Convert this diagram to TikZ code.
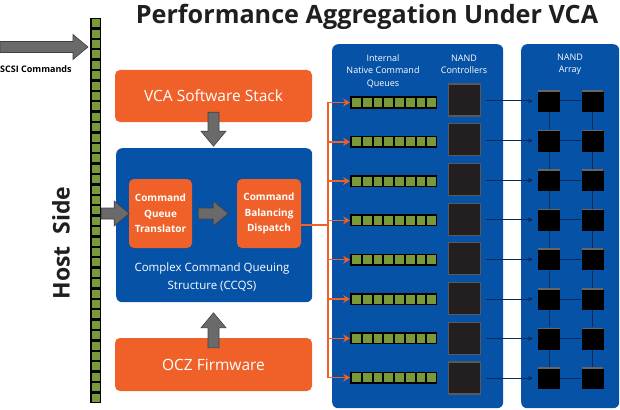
\documentclass[tikz,border=0pt]{standalone}
\usepackage{fontspec}
\setmainfont{Open Sans}
\usetikzlibrary{arrows.meta,calc}

\definecolor{oczorange}{HTML}{F0612A}
\definecolor{vcablue}{HTML}{0652A6}
\definecolor{qgreen}{HTML}{7A9A3A}
\definecolor{arrowgray}{HTML}{6A6A6A}
\definecolor{ctrlgray}{HTML}{231F20}
\definecolor{linknavy}{HTML}{0A2A58}

\tikzset{
  orangebox/.style={fill=oczorange, rounded corners=5pt, text=white, inner sep=0pt},
  bluepanel/.style={fill=vcablue, rounded corners=6pt, inner sep=0pt},
  fatarrow/.style={fill=arrowgray, draw=black!75, line width=0.6pt},
  fanout/.style={draw=oczorange, line width=1.4pt},
  ctrlbox/.style={fill=ctrlgray, draw=black!65, line width=1.2pt, minimum size=32pt, inner sep=0pt},
  nandchip/.style={fill=black, minimum size=22pt, inner sep=0pt,
    path picture={\fill[black!60] (path picture bounding box.north west) rectangle ([yshift=-1.6pt]path picture bounding box.north east);}},
  chiplink/.style={draw=linknavy, line width=1pt},
  paneltext/.style={text=white, font=\fontsize{9}{12.5}\selectfont, align=center},
}

% fat gray arrow: start, direction, length
\newcommand{\fatarrow}[3]{%
  \draw[fatarrow, shift={(#1)}, rotate=#2]
    (0pt,-5.5pt) -- (#3pt-15pt,-5.5pt) -- (#3pt-15pt,-12.5pt) -- (#3pt,0pt)
    -- (#3pt-15pt,12.5pt) -- (#3pt-15pt,5.5pt) -- (0pt,5.5pt) -- cycle;}

\begin{document}
\begin{tikzpicture}[x=1pt,y=-1pt]
  \useasboundingbox (0,0) rectangle (620,409);

  \node[font=\bfseries\fontsize{25.2}{28}\selectfont, text=black!88] (title) at (367,17) {Performance Aggregation Under VCA};

  % host side queue
  \node[fill=black, minimum width=11pt, minimum height=385pt, inner sep=0pt, anchor=north] (hostq) at (95.5,18) {};
  \foreach \k in {0,...,36}
    \fill[qgreen] (91.5,19.2+\k*10.4) rectangle ++(8,8);

  \coordinate (scsiin) at (0,47);
  \fatarrow{scsiin}{0}{88}
  \node[font=\bfseries\fontsize{9}{11}\selectfont, anchor=west, inner sep=0pt] (scsi) at (0,69) {SCSI Commands};
  \node[rotate=90, font=\bfseries\fontsize{23}{26}\selectfont, text=black!88] (host) at (61,243) {Host\ \ Side};

  % VCA stack
  \node[orangebox, minimum width=197pt, minimum height=52pt, font=\fontsize{15.5}{18}\selectfont] (vca) at (213.5,96) {VCA Software Stack};
  \node[bluepanel, minimum width=196pt, minimum height=154pt, anchor=north west] (ccqs) at (116,148) {};
  \node[orangebox, minimum width=63pt, minimum height=69pt, align=center, font=\bfseries\fontsize{10}{15.5}\selectfont] (cqt) at (160.5,213.5) {Command\\Queue\\Translator};
  \node[orangebox, minimum width=64pt, minimum height=69pt, align=center, font=\bfseries\fontsize{10}{15.5}\selectfont] (cbd) at (269,213.5) {Command\\Balancing\\Dispatch};
  \node[text=white, align=center, font=\fontsize{11.5}{18}\selectfont] (ccqslabel) at (212,277) {Complex Command Queuing\\Structure (CCQS)};
  \node[orangebox, minimum width=197pt, minimum height=53pt, font=\fontsize{15.5}{18}\selectfont] (ocz) at (213.5,364.5) {OCZ Firmware};

  \fatarrow{[yshift=10pt]vca.south}{-90}{34}
  \fatarrow{hostq.east |- cqt.west}{0}{28}
  \fatarrow{[xshift=6pt]cqt.east}{0}{30}
  \fatarrow{[yshift=-10pt]ocz.north}{90}{35}

  % device side
  \node[bluepanel, minimum width=171pt, minimum height=364pt, anchor=north west] (qpanel) at (332,44) {};
  \node[bluepanel, minimum width=98pt, minimum height=364pt, anchor=north west] (npanel) at (521,44) {};
  \node[paneltext] (qlabel) at (383,71) {Internal\\Native Command\\Queues};
  \node[paneltext] (clabel) at (464,64.5) {NAND\\Controllers};
  \node[paneltext] (alabel) at (570,64.5) {NAND\\Array};

  \foreach \i in {0,...,7} {
    \pgfmathsetmacro{\qy}{102.5+39.3*\i}
    \node[fill=black, minimum width=87pt, minimum height=12pt, inner sep=0pt, anchor=west] (queue\i) at (350,\qy) {};
    \foreach \k in {0,...,7}
      \fill[qgreen] (352+\k*10.75,\qy-4.5) rectangle ++(8.8,9);
    \pgfmathsetmacro{\cy}{100+39.7*\i}
    \node[ctrlbox] (ctrl\i) at (464.5,\cy) {};
    \pgfmathsetmacro{\ny}{101+39.6*\i}
    \node[nandchip] (chipa\i) at (549,\ny) {};
    \node[nandchip] (chipb\i) at (592.5,\ny) {};
  }

  % fan out from the dispatcher
  \coordinate (trunk) at (328,225);
  \draw[fanout] (cbd.east |- trunk) -- (trunk);
  \draw[fanout] (trunk |- queue0.west) -- (trunk |- queue7.west);
  \foreach \i in {0,...,7}
    \draw[fanout, -{Stealth[length=7pt,width=8pt,inset=2.5pt]}] (trunk |- queue\i.west) -- (queue\i.west);

  % controllers to the array
  \foreach \i in {0,...,7} {
    \draw[chiplink, -{Stealth[length=5pt,width=4.5pt]}] ([xshift=5pt]ctrl\i.east |- chipa\i) -- ([xshift=-5pt]chipa\i.west);
    \draw[chiplink] (chipa\i.east) -- (chipb\i.west);
  }
  \foreach \i in {0,...,6} {
    \pgfmathtruncatemacro{\j}{\i+1}
    \draw[chiplink] (chipa\i.south) -- (chipa\j.north);
    \draw[chiplink] (chipb\i.south) -- (chipb\j.north);
  }
\end{tikzpicture}
\end{document}
